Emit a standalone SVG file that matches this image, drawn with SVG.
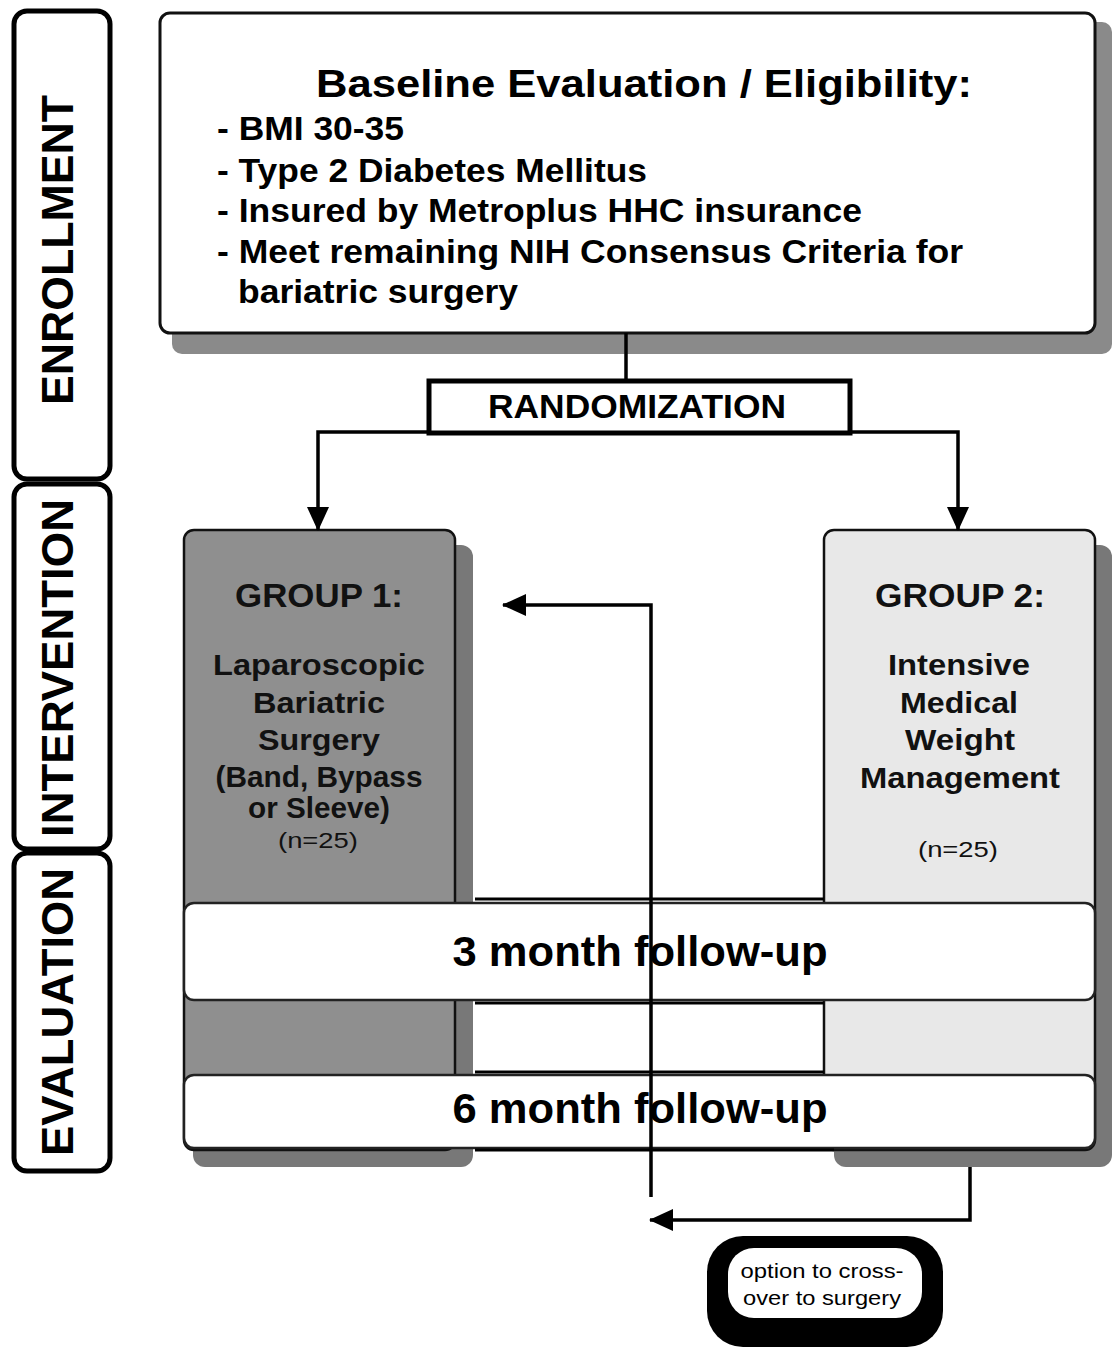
<svg xmlns="http://www.w3.org/2000/svg" width="1112" height="1349" viewBox="0 0 1112 1349">
<style>
text{font-family:"Liberation Sans",Arial,Helvetica,sans-serif;fill:#000}
.b{font-weight:bold}
.phase{fill:#fff;stroke:#000;stroke-width:5}
.phaset{font-weight:bold;font-size:44px;text-anchor:middle}
.shadow{fill:#8a8a8a}
.shadowd{fill:#787878}
.box{fill:#fff;stroke:#111;stroke-width:3}
.bul{font-weight:bold;font-size:33px}
.gt{font-weight:bold;font-size:29px;text-anchor:middle;fill:#111}
.gh{font-weight:bold;font-size:33px;text-anchor:middle;fill:#111}
.gn{font-size:22px;text-anchor:middle;fill:#111}
.fu{font-weight:bold;font-size:42px;text-anchor:middle}
.conn{fill:none;stroke:#000;stroke-width:3.5}
.mid{stroke:#000;stroke-width:3}
</style>
<defs>
<marker id="arr" markerUnits="userSpaceOnUse" markerWidth="24" markerHeight="22" viewBox="0 0 24 22" refX="23" refY="11" orient="auto">
<path d="M0,0 L24,11 L0,22 z" fill="#000"/>
</marker>
</defs>

<g id="phase-enrollment">
<rect class="phase" x="14" y="11" width="96" height="468" rx="13"/>
<text class="phaset" transform="translate(73,250) rotate(-90)" textLength="310" lengthAdjust="spacingAndGlyphs">ENROLLMENT</text>
</g>
<g id="phase-intervention">
<rect class="phase" x="14" y="484" width="96" height="365" rx="13"/>
<text class="phaset" transform="translate(73,668) rotate(-90)" textLength="338" lengthAdjust="spacingAndGlyphs">INTERVENTION</text>
</g>
<g id="phase-evaluation">
<rect class="phase" x="14" y="853" width="96" height="318" rx="13"/>
<text class="phaset" transform="translate(73,1012) rotate(-90)" textLength="288" lengthAdjust="spacingAndGlyphs">EVALUATION</text>
</g>

<g id="baseline">
<rect class="shadow" x="172" y="22" width="940" height="332" rx="10"/>
<rect class="box" x="160" y="13" width="935" height="320" rx="10"/>
<text class="b" x="316" y="97" font-size="38" textLength="656" lengthAdjust="spacingAndGlyphs">Baseline Evaluation / Eligibility:</text>
<text class="bul" x="217" y="140" textLength="187" lengthAdjust="spacingAndGlyphs">- BMI 30-35</text>
<text class="bul" x="217" y="182" textLength="430" lengthAdjust="spacingAndGlyphs">- Type 2 Diabetes Mellitus</text>
<text class="bul" x="217" y="222" textLength="645" lengthAdjust="spacingAndGlyphs">- Insured by Metroplus HHC insurance</text>
<text class="bul" x="217" y="263" textLength="746" lengthAdjust="spacingAndGlyphs">- Meet remaining NIH Consensus Criteria for</text>
<text class="bul" x="238" y="303" textLength="280" lengthAdjust="spacingAndGlyphs">bariatric surgery</text>
</g>

<g id="randomization">
<rect x="429" y="381" width="421" height="52" fill="#fff" stroke="#000" stroke-width="5"/>
<text class="b" x="637" y="418" font-size="33" text-anchor="middle" textLength="298" lengthAdjust="spacingAndGlyphs">RANDOMIZATION</text>
</g>

<g id="group1">
<rect class="shadowd" x="193" y="545" width="280" height="622" rx="12"/>
<rect x="184" y="530" width="271" height="620" rx="10" fill="#8f8f8f" stroke="#111" stroke-width="2.5"/>
<text class="gh" x="319" y="607" textLength="168" lengthAdjust="spacingAndGlyphs">GROUP 1:</text>
<text class="gt" x="319" y="675" textLength="212" lengthAdjust="spacingAndGlyphs">Laparoscopic</text>
<text class="gt" x="319" y="713" textLength="132" lengthAdjust="spacingAndGlyphs">Bariatric</text>
<text class="gt" x="319" y="750" textLength="122" lengthAdjust="spacingAndGlyphs">Surgery</text>
<text class="gt" x="319" y="787" font-size="26" textLength="207" lengthAdjust="spacingAndGlyphs">(Band, Bypass</text>
<text class="gt" x="319" y="818" font-size="26" textLength="142" lengthAdjust="spacingAndGlyphs">or Sleeve)</text>
<text class="gn" x="318" y="848" textLength="80" lengthAdjust="spacingAndGlyphs">(n=25)</text>
</g>

<g id="group2">
<rect class="shadowd" x="834" y="545" width="278" height="622" rx="12"/>
<rect x="824" y="530" width="271" height="620" rx="10" fill="#e8e8e8" stroke="#111" stroke-width="2.5"/>
<text class="gh" x="960" y="607" textLength="170" lengthAdjust="spacingAndGlyphs">GROUP 2:</text>
<text class="gt" x="959" y="675" textLength="142" lengthAdjust="spacingAndGlyphs">Intensive</text>
<text class="gt" x="959" y="713" textLength="118" lengthAdjust="spacingAndGlyphs">Medical</text>
<text class="gt" x="960" y="750" textLength="110" lengthAdjust="spacingAndGlyphs">Weight</text>
<text class="gt" x="960" y="788" textLength="200" lengthAdjust="spacingAndGlyphs">Management</text>
<text class="gn" x="958" y="857" textLength="80" lengthAdjust="spacingAndGlyphs">(n=25)</text>
</g>

<g id="followup3">
<line class="mid" x1="475" y1="899" x2="824" y2="899"/>
<line class="mid" x1="475" y1="1003" x2="824" y2="1003"/>
<rect x="184" y="903" width="911" height="97" rx="10" fill="#fff" stroke="#222" stroke-width="2.5"/>
<text class="fu" x="640" y="966" textLength="375" lengthAdjust="spacingAndGlyphs">3 month follow-up</text>
</g>

<g id="followup6">
<line class="mid" x1="475" y1="1072" x2="824" y2="1072"/>
<rect x="184" y="1075" width="911" height="73" rx="10" fill="#fff" stroke="#222" stroke-width="2.5"/>
<line class="mid" x1="475" y1="1150" x2="834" y2="1150"/>
<text class="fu" x="640" y="1123" textLength="375" lengthAdjust="spacingAndGlyphs">6 month follow-up</text>
</g>

<g id="crossover-note">
<rect x="707" y="1236" width="236" height="111" rx="36" fill="#000"/>
<rect x="728" y="1248" width="194" height="70" rx="26" fill="#fff"/>
<text x="822" y="1278" font-size="21" text-anchor="middle" textLength="163" lengthAdjust="spacingAndGlyphs">option to cross-</text>
<text x="822" y="1305" font-size="21" text-anchor="middle" textLength="158" lengthAdjust="spacingAndGlyphs">over to surgery</text>
</g>

<g id="connectors">
<path class="conn" d="M626,333 V381"/>
<path class="conn" d="M429,432 H318 V530" marker-end="url(#arr)"/>
<path class="conn" d="M850,432 H958 V530" marker-end="url(#arr)"/>
<path class="conn" d="M970,1167 V1220 H650" marker-end="url(#arr)"/>
<path class="conn" d="M651,1197 V605 H503" marker-end="url(#arr)"/>
</g>
</svg>
